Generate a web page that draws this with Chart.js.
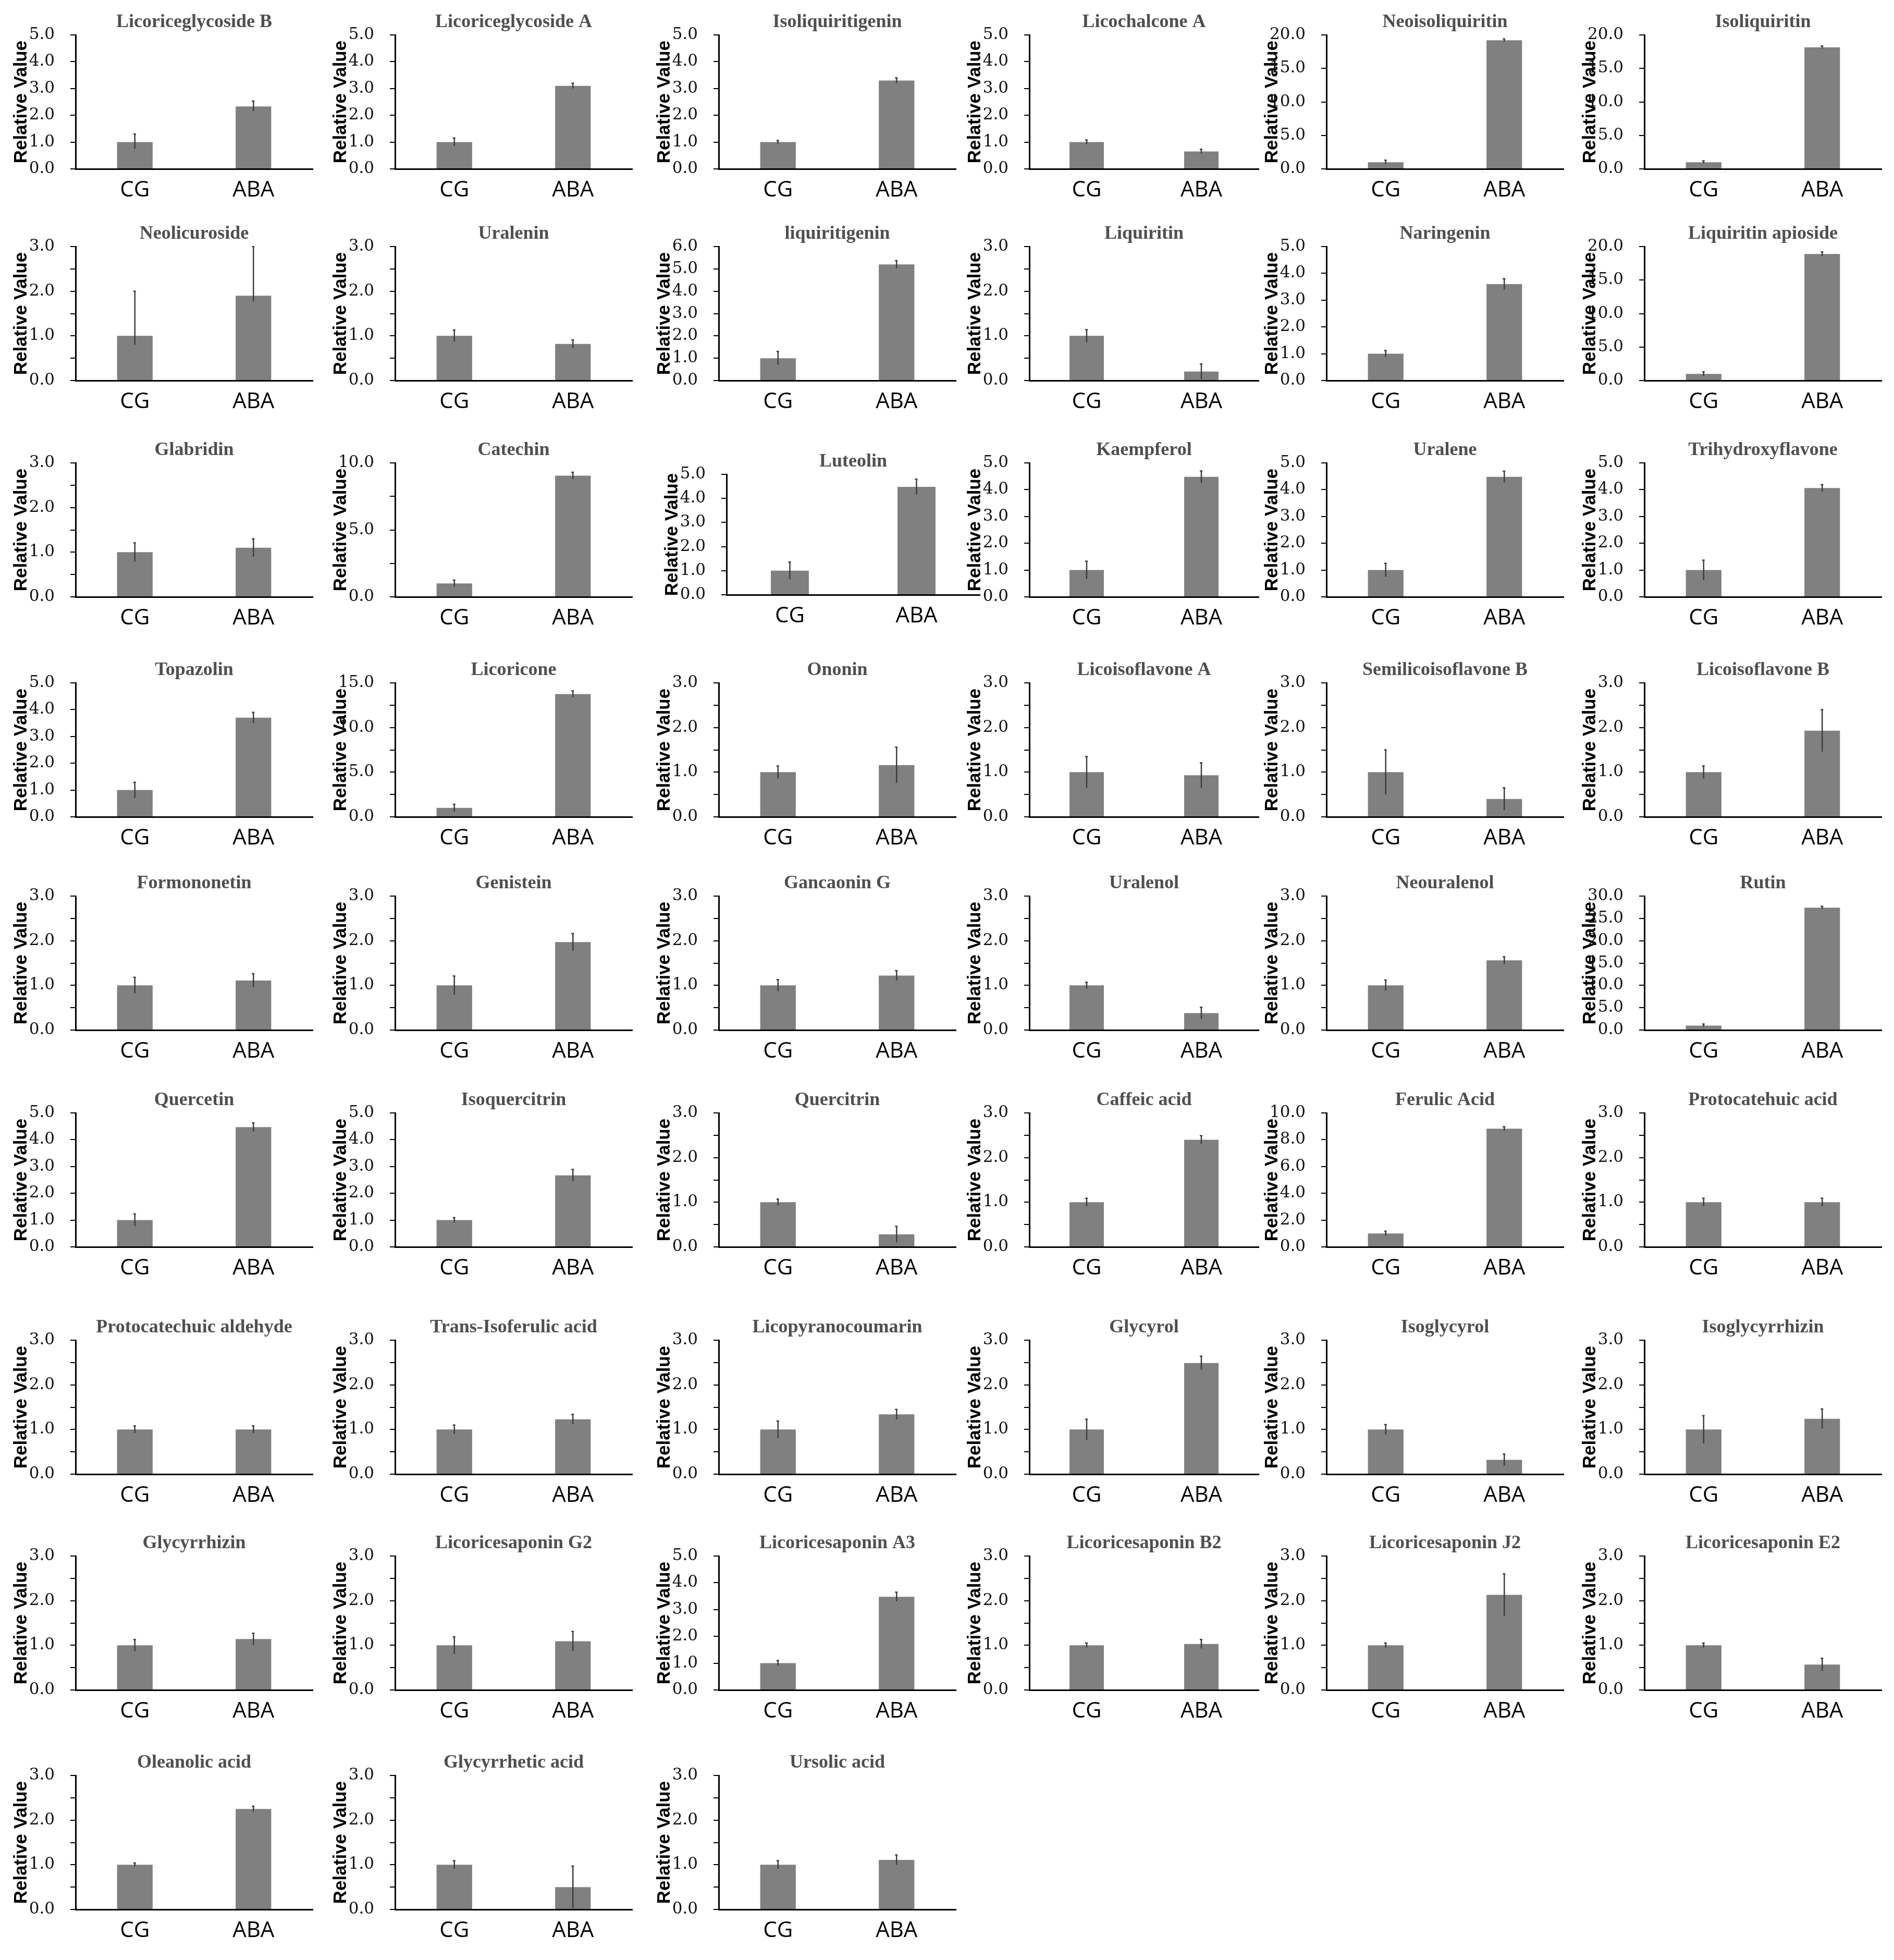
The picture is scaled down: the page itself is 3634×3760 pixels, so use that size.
<!DOCTYPE html>
<html>
<head>
<meta charset="utf-8">
<title>Relative content of flavonoids, phenolic acids and triterpenoids</title>
<script src="https://cdn.jsdelivr.net/npm/chart.js@4.4.1/dist/chart.umd.min.js"></script>
<style>
  html, body { margin: 0; padding: 0; background: #ffffff; }
  #sheet { position: relative; width: 3634px; height: 3760px; background: #ffffff; overflow: hidden; }
  #sheet canvas { position: absolute; }
</style>
</head>
<body>
<div id="sheet"></div>
<script>
// ============================================================================
// DATA
// ============================================================================

const groups = ['CG', 'ABA'];

const compounds = [
  'Licoriceglycoside B', 'Licoriceglycoside A', 'Isoliquiritigenin', 'Licochalcone A', 'Neoisoliquiritin', 'Isoliquiritin',
  'Neolicuroside', 'Uralenin', 'liquiritigenin', 'Liquiritin', 'Naringenin', 'Liquiritin apioside',
  'Glabridin', 'Catechin', 'Luteolin', 'Kaempferol', 'Uralene', 'Trihydroxyflavone',
  'Topazolin', 'Licoricone', 'Ononin', 'Licoisoflavone A', 'Semilicoisoflavone B', 'Licoisoflavone B',
  'Formononetin', 'Genistein', 'Gancaonin G', 'Uralenol', 'Neouralenol', 'Rutin',
  'Quercetin', 'Isoquercitrin', 'Quercitrin', 'Caffeic acid', 'Ferulic Acid', 'Protocatehuic acid',
  'Protocatechuic aldehyde', 'Trans-Isoferulic acid', 'Licopyranocoumarin', 'Glycyrol', 'Isoglycyrol', 'Isoglycyrrhizin',
  'Glycyrrhizin', 'Licoricesaponin G2', 'Licoricesaponin A3', 'Licoricesaponin B2', 'Licoricesaponin J2', 'Licoricesaponin E2',
  'Oleanolic acid', 'Glycyrrhetic acid', 'Ursolic acid'
];

// y axis: top of axis, labelled step, tick step (minor ticks)
const yMax = [
  5, 5, 5, 5, 20, 20,
  3, 3, 6, 3, 5, 20,
  3, 10, 5, 5, 5, 5,
  5, 15, 3, 3, 3, 3,
  3, 3, 3, 3, 3, 30,
  5, 5, 3, 3, 10, 3,
  3, 3, 3, 3, 3, 3,
  3, 3, 5, 3, 3, 3,
  3, 3, 3
];
const yStep = [
  1, 1, 1, 1, 5, 5,
  1, 1, 1, 1, 1, 5,
  1, 5, 1, 1, 1, 1,
  1, 5, 1, 1, 1, 1,
  1, 1, 1, 1, 1, 5,
  1, 1, 1, 1, 2, 1,
  1, 1, 1, 1, 1, 1,
  1, 1, 1, 1, 1, 1,
  1, 1, 1
];
const yMinor = [
  0.5, 0.5, 0.5, 0.5, 2.5, 2.5,
  0.5, 0.5, 0.5, 0.5, 0.5, 2.5,
  0.5, 2.5, 0.5, 0.5, 0.5, 0.5,
  0.5, 2.5, 0.5, 0.5, 0.5, 0.5,
  0.5, 0.5, 0.5, 0.5, 0.5, 5,
  0.5, 0.5, 0.5, 0.5, 1, 0.5,
  0.5, 0.5, 0.5, 0.5, 0.5, 0.5,
  0.5, 0.5, 0.5, 0.5, 0.5, 0.5,
  0.5, 0.5, 0.5
];

// CG (control) bars, upper and lower error
const cgMean = [
  1.0, 1.0, 1.0, 1.0, 1.0, 1.0,
  1.0, 1.0, 1.0, 1.0, 1.0, 1.0,
  1.0, 1.0, 1.0, 1.0, 1.0, 1.0,
  1.0, 1.0, 1.0, 1.0, 1.0, 1.0,
  1.0, 1.0, 1.0, 1.0, 1.0, 1.0,
  1.0, 1.0, 1.0, 1.0, 1.0, 1.0,
  1.0, 1.0, 1.0, 1.0, 1.0, 1.0,
  1.0, 1.0, 1.0, 1.0, 1.0, 1.0,
  1.0, 1.0, 1.0
];
const cgErr = [
  0.30, 0.15, 0.06, 0.08, 0.30, 0.20,
  1.00, 0.13, 0.30, 0.14, 0.12, 0.30,
  0.21, 0.25, 0.36, 0.33, 0.25, 0.37,
  0.29, 0.40, 0.14, 0.35, 0.50, 0.14,
  0.18, 0.21, 0.13, 0.07, 0.12, 0.35,
  0.23, 0.09, 0.07, 0.09, 0.17, 0.09,
  0.08, 0.10, 0.19, 0.23, 0.11, 0.31,
  0.13, 0.19, 0.10, 0.05, 0.05, 0.05,
  0.04, 0.09, 0.09
];
const cgErrLow = [
  0.25, 0.15, 0.06, 0.08, 0.30, 0.20,
  0.20, 0.13, 0.30, 0.14, 0.12, 0.30,
  0.21, 0.25, 0.36, 0.33, 0.25, 0.37,
  0.29, 0.40, 0.14, 0.35, 0.50, 0.14,
  0.18, 0.21, 0.13, 0.07, 0.12, 0.35,
  0.23, 0.09, 0.07, 0.09, 0.17, 0.09,
  0.08, 0.10, 0.19, 0.23, 0.11, 0.31,
  0.13, 0.19, 0.10, 0.05, 0.05, 0.05,
  0.04, 0.09, 0.09
];

// ABA treated bars, upper and lower error
const abaMean = [
  2.33, 3.10, 3.30, 0.65, 19.2, 18.15,
  1.90, 0.82, 5.20, 0.20, 3.60, 18.9,
  1.10, 9.05, 4.48, 4.48, 4.48, 4.06,
  3.70, 13.75, 1.16, 0.93, 0.40, 1.93,
  1.11, 1.97, 1.22, 0.38, 1.56, 27.4,
  4.47, 2.67, 0.28, 2.40, 8.82, 1.00,
  1.00, 1.23, 1.34, 2.49, 0.32, 1.24,
  1.14, 1.09, 3.48, 1.03, 2.13, 0.57,
  2.25, 0.50, 1.11
];
const abaErr = [
  0.20, 0.10, 0.10, 0.08, 0.20, 0.20,
  1.10, 0.09, 0.17, 0.17, 0.20, 0.30,
  0.20, 0.25, 0.32, 0.22, 0.21, 0.13,
  0.20, 0.35, 0.40, 0.28, 0.25, 0.47,
  0.15, 0.19, 0.11, 0.13, 0.08, 0.30,
  0.16, 0.22, 0.18, 0.09, 0.15, 0.09,
  0.08, 0.11, 0.11, 0.15, 0.13, 0.22,
  0.13, 0.22, 0.17, 0.10, 0.47, 0.14,
  0.06, 0.47, 0.11
];
const abaErrLow = [
  0.17, 0.10, 0.10, 0.08, 0.20, 0.20,
  0.13, 0.09, 0.17, 0.17, 0.20, 0.30,
  0.20, 0.25, 0.32, 0.22, 0.21, 0.13,
  0.20, 0.35, 0.40, 0.28, 0.25, 0.47,
  0.15, 0.19, 0.11, 0.13, 0.08, 0.30,
  0.16, 0.22, 0.18, 0.09, 0.15, 0.09,
  0.08, 0.11, 0.11, 0.15, 0.13, 0.22,
  0.13, 0.22, 0.17, 0.10, 0.47, 0.14,
  0.06, 0.47, 0.11
];

// ============================================================================
// LAYOUT (page pixels)
// ============================================================================

const colX = [145, 758, 1379, 1975, 2545, 3155];   // y axis line of each column
const colW = [455, 455, 455, 440, 455, 455];       // plot width of each column
const rowTop = [67, 473, 888, 1310, 1719, 2135, 2571, 2985, 3406];
const PLOT_H = 257;
const LEFT = 145;    // room for axis title + tick labels
const TOP = 67;      // room for panel title
const BOTTOM = 80;   // room for CG / ABA labels
const RIGHT = 15;
// Luteolin sits a bit lower and wider than its neighbours
const overrides = { 14: { x: 1394, top: 910, w: 486, h: 231 } };

// ============================================================================
// PLUGINS
// ============================================================================

// Panel title drawn centred over the plot area
const panelTitle = {
  id: 'panelTitle',
  afterDraw(chart, args, opts) {
    const area = chart.chartArea;
    const ctx = chart.ctx;
    ctx.save();
    ctx.font = 'bold 36px "Liberation Serif", "Times New Roman", serif';
    ctx.fillStyle = '#4f4f4f';
    ctx.textAlign = 'center';
    ctx.textBaseline = 'middle';
    ctx.fillText(opts.text, (area.left + area.right) / 2, area.top - 24);
    ctx.restore();
  }
};

// Vertical error lines through the bar centres
const errorBars = {
  id: 'errorBars',
  afterDatasetsDraw(chart) {
    const ds = chart.data.datasets[0];
    const meta = chart.getDatasetMeta(0);
    const y = chart.scales.y;
    const area = chart.chartArea;
    const ctx = chart.ctx;
    ctx.save();
    ctx.beginPath();
    ctx.rect(area.left, area.top - 1, area.right - area.left, area.bottom - area.top + 1);
    ctx.clip();
    ctx.strokeStyle = '#3d3d3d';
    ctx.lineWidth = 2.5;
    meta.data.forEach((bar, i) => {
      const v = ds.data[i];
      const yHi = y.getPixelForValue(v + ds.errUp[i]);
      const yLo = y.getPixelForValue(v - ds.errDown[i]);
      ctx.beginPath();
      ctx.moveTo(bar.x, yHi);
      ctx.lineTo(bar.x, yLo);
      ctx.stroke();
      ctx.beginPath();
      ctx.moveTo(bar.x - 3, yHi);
      ctx.lineTo(bar.x + 2, yHi);
      ctx.stroke();
    });
    ctx.restore();
  }
};

// ============================================================================
// BUILD PANELS
// ============================================================================

function buildPanel(i) {
  const row = Math.floor(i / 6);
  const col = i % 6;
  const o = overrides[i] || {};
  const axisX = o.x || colX[col];
  const top = o.top || rowTop[row];
  const w = o.w || colW[col];
  const h = o.h || PLOT_H;

  const canvas = document.createElement('canvas');
  canvas.width = LEFT + w + RIGHT;
  canvas.height = TOP + h + BOTTOM;
  canvas.style.left = (axisX - LEFT) + 'px';
  canvas.style.top = (top - TOP) + 'px';
  document.getElementById('sheet').appendChild(canvas);

  const major = yStep[i];
  const nTicks = Math.round(yMax[i] / yMinor[i]) + 1;

  return new Chart(canvas, {
    type: 'bar',
    data: {
      labels: groups,
      datasets: [{
        data: [cgMean[i], abaMean[i]],
        errUp: [cgErr[i], abaErr[i]],
        errDown: [cgErrLow[i], abaErrLow[i]],
        backgroundColor: '#808080',
        borderWidth: 0,
        barPercentage: 0.3,
        categoryPercentage: 1
      }]
    },
    options: {
      responsive: false,
      animation: false,
      devicePixelRatio: 1,
      layout: { padding: { top: TOP, right: RIGHT, bottom: 0, left: 0 } },
      plugins: {
        legend: { display: false },
        tooltip: { enabled: false },
        title: { display: false },
        panelTitle: { text: compounds[i] }
      },
      scales: {
        x: {
          grid: { display: false, drawTicks: false },
          border: { display: true, color: '#000000', width: 3, z: 1 },
          ticks: {
            color: '#000000',
            padding: 16,
            font: { family: '"Open Sans", "Noto Sans", sans-serif', size: 42 }
          },
          afterFit: (s) => { s.height = BOTTOM; }
        },
        y: {
          min: 0,
          max: yMax[i],
          grid: { display: true, drawOnChartArea: false, drawTicks: true, tickLength: 10, color: '#000000', lineWidth: 2 },
          border: { display: true, color: '#000000', width: 3, z: 1 },
          ticks: {
            stepSize: yMinor[i],
            maxTicksLimit: nTicks,
            padding: 30,
            color: '#111111',
            font: { family: '"DejaVu Serif", serif', size: 31 },
            callback: (value) => {
              const r = value / major;
              return Math.abs(r - Math.round(r)) < 1e-6 ? value.toFixed(1) : '';
            }
          },
          title: {
            display: true,
            text: 'Relative Value',
            color: '#000000',
            padding: { top: 20, bottom: 0 },
            font: { family: '"Liberation Sans", Arial, sans-serif', weight: 'bold', size: 35 }
          },
          afterFit: (s) => { s.width = LEFT; }
        }
      }
    },
    plugins: [panelTitle, errorBars]
  });
}

function initSheet() {
  try {
    if (typeof Chart === 'undefined') {
      console.warn('Chart.js not loaded yet, retrying in 200ms...');
      setTimeout(initSheet, 200);
      return;
    }
    compounds.forEach((name, i) => buildPanel(i));
  } catch (error) {
    console.error('Error building panels:', error);
  }
}

initSheet();
</script>
</body>
</html>
